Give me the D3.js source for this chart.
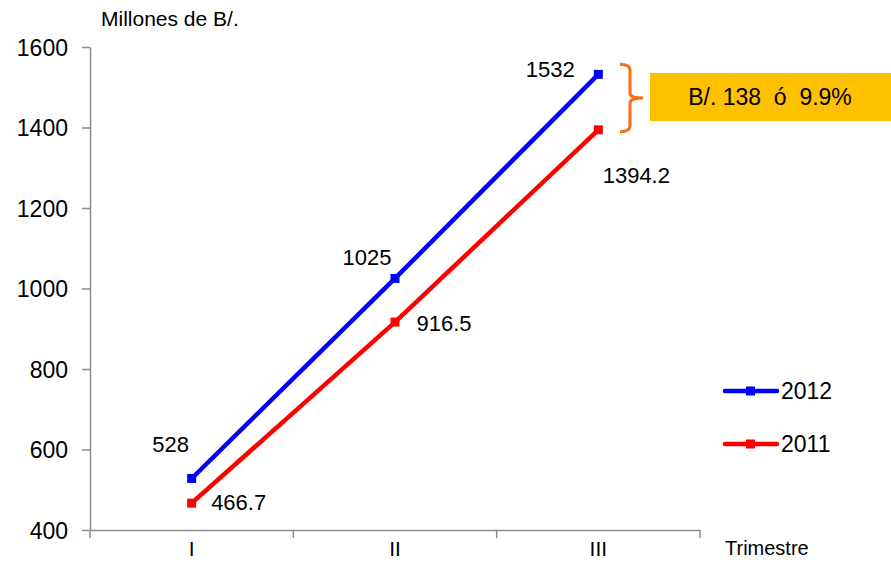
<!DOCTYPE html>
<html><head><meta charset="utf-8">
<script src="https://cdn.jsdelivr.net/npm/d3@7"></script>
<style>body{margin:0;background:#fff}svg{display:block;font-family:"Liberation Sans",Arial,sans-serif}</style>
</head><body>
<svg id="c" width="891" height="562"></svg>
<script>
const categories = ["I","II","III"];
const values2012 = [528, 1025, 1532];
const values2011 = [466.7, 916.5, 1394.2];
const labels2012 = ["528","1025","1532"];
const labels2011 = ["466.7","916.5","1394.2"];
const yTicks = [400,600,800,1000,1200,1400,1600];
const seriesNames = ["2012","2011"];
const annotationText = "B/. 138  ó  9.9%";

const FONT = "Liberation Sans, Arial, sans-serif";
const svg = d3.select("#c");
const x = d3.scaleBand().domain(categories).range([90,700]);
const y = d3.scaleLinear().domain([400,1600]).range([530,47]);

// y axis
const ya = svg.append("g").attr("transform","translate(90,0)")
  .call(d3.axisLeft(y).tickValues(yTicks).tickFormat(d3.format("d")).tickSize(8).tickPadding(14).tickSizeOuter(0));
ya.select(".domain").attr("stroke","#8c8c8c").attr("stroke-width",1.5);
ya.selectAll(".tick line").attr("stroke","#8c8c8c").attr("stroke-width",1.5);
ya.selectAll("text").attr("font-size",23).attr("fill","#000").attr("font-family",FONT).attr("dy","0.36em");

// x axis
const xa = svg.append("g").attr("transform","translate(0,530)")
  .call(d3.axisBottom(x).tickSize(0).tickPadding(0).tickSizeOuter(0));
xa.select(".domain").attr("stroke","#8c8c8c").attr("stroke-width",1.5);
xa.selectAll("text").attr("font-size",21).attr("fill","#000").attr("font-family",FONT).attr("dy",null).attr("y",26);
// boundary ticks
const bounds = categories.map(c=>x(c)).concat([x(categories[categories.length-1])+x.bandwidth()]);
svg.append("g").selectAll("line").data(bounds).join("line")
  .attr("x1",d=>d).attr("x2",d=>d).attr("y1",530).attr("y2",538).attr("stroke","#8c8c8c").attr("stroke-width",1.5);

svg.append("text").attr("x",101).attr("y",26).attr("font-size",21).text("Millones de B/.");
svg.append("text").attr("x",725).attr("y",555).attr("font-size",20).text("Trimestre");

const cx = c => x(c) + x.bandwidth()/2;
const line = d3.line().x((d,i)=>cx(categories[i])).y(d=>y(d));

function drawSeries(vals, color){
  svg.append("path").datum(vals).attr("d",line).attr("fill","none")
    .attr("stroke",color).attr("stroke-width",4.5).attr("stroke-linejoin","round");
  svg.append("g").selectAll("rect").data(vals).join("rect")
    .attr("x",(d,i)=>cx(categories[i])-4.5).attr("y",d=>y(d)-4.5)
    .attr("width",9).attr("height",9).attr("fill",color);
}
drawSeries(values2012,"#0000ff");
drawSeries(values2011,"#ff0000");

// data labels (offsets from point: dx of text centre, dy of baseline)
const off2012 = [[-21,-26],[-28,-13],[-48,3]];
const off2011 = [[47,7],[49,9],[38,53]];
values2012.forEach((v,i)=>{
  svg.append("text").attr("x",cx(categories[i])+off2012[i][0]).attr("y",y(v)+off2012[i][1])
    .attr("text-anchor","middle").attr("font-size",22).text(labels2012[i]);
});
values2011.forEach((v,i)=>{
  svg.append("text").attr("x",cx(categories[i])+off2011[i][0]).attr("y",y(v)+off2011[i][1])
    .attr("text-anchor","middle").attr("font-size",22).text(labels2011[i]);
});

// legend
const legColors = ["#0000ff","#ff0000"];
seriesNames.forEach((n,i)=>{
  const ly = 391 + i*53;
  svg.append("line").attr("x1",725).attr("x2",777).attr("y1",ly).attr("y2",ly)
    .attr("stroke",legColors[i]).attr("stroke-width",4.5).attr("stroke-linecap","round");
  svg.append("rect").attr("x",746).attr("y",ly-4.5).attr("width",9).attr("height",9).attr("fill",legColors[i]);
  svg.append("text").attr("x",781).attr("y",ly+8).attr("font-size",23).text(n);
});

// bracket annotation
const yTop = y(values2012[2]) - 10, yBot = y(values2011[2]) + 2, yMid = (yTop+yBot)/2;
svg.append("path").attr("fill","none").attr("stroke","#ff6a13").attr("stroke-width",3)
  .attr("d",`M620,${yTop} Q630,${yTop} 630,${yTop+6} L630,${yMid-5} Q630,${yMid} 643,${yMid} Q630,${yMid} 630,${yMid+5} L630,${yBot-6} Q630,${yBot} 620,${yBot}`);
svg.append("rect").attr("x",650).attr("y",73).attr("width",241).attr("height",48).attr("fill","#ffc000");
svg.append("text").attr("x",770).attr("y",105).attr("text-anchor","middle").attr("font-size",23)
  .style("white-space","pre").text(annotationText);
</script>
</body></html>
